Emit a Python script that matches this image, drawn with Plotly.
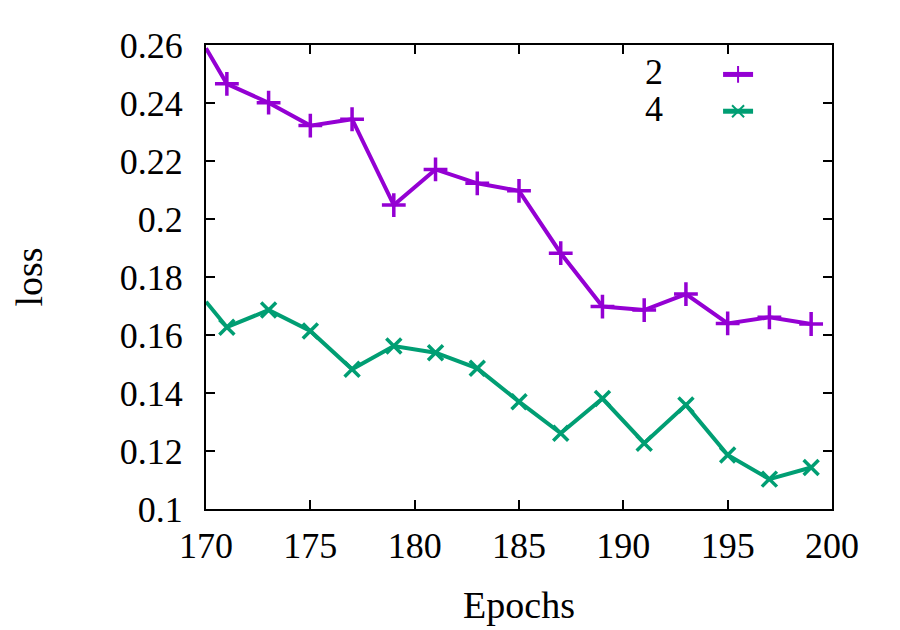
import plotly.graph_objects as go

# epochs sampled every 2 after the first point
epochs = [170, 171, 173, 175, 177, 179, 181, 183, 185, 187, 189, 191, 193, 195, 197, 199]

loss_2 = [0.2589, 0.2466, 0.2401, 0.2322, 0.2344, 0.2048, 0.2171, 0.2123,
          0.2097, 0.1882, 0.1698, 0.1686, 0.1741, 0.1640, 0.1661, 0.1638]
loss_4 = [0.1715, 0.1627, 0.1686, 0.1614, 0.1482, 0.1562, 0.1539, 0.1485,
          0.1370, 0.1261, 0.1381, 0.1227, 0.1359, 0.1186, 0.1103, 0.1143]

x_ticks = [170, 175, 180, 185, 190, 195, 200]
y_ticks = [0.1, 0.12, 0.14, 0.16, 0.18, 0.2, 0.22, 0.24, 0.26]
y_ticktext = ["0.1", "0.12", "0.14", "0.16", "0.18", "0.2", "0.22", "0.24", "0.26"]

purple = "#9400d3"
green = "#009e73"
font_family = "Liberation Serif, Times New Roman, serif"

# gnuplot drops the point symbol sitting on the border (first epoch)
def marker_sizes(size, n):
    return [0] + [size] * (n - 1)

fig = go.Figure()
fig.add_trace(go.Scatter(
    x=epochs, y=loss_2, mode="lines+markers", name=" ",
    line=dict(color=purple, width=4),
    marker=dict(symbol="cross-thin-open", size=marker_sizes(17, len(epochs)),
                color=purple, opacity=1,
                line=dict(color=purple, width=3.5)),
    cliponaxis=False,
))
fig.add_trace(go.Scatter(
    x=epochs, y=loss_4, mode="lines+markers", name=" ",
    line=dict(color=green, width=4),
    marker=dict(symbol="x-thin-open", size=marker_sizes(15, len(epochs)),
                color=green, opacity=1,
                line=dict(color=green, width=3.5)),
    cliponaxis=False,
))

axis_common = dict(
    showline=True, linecolor="black", linewidth=2, mirror="ticks",
    ticks="inside", ticklen=9, tickwidth=1.5, tickcolor="black",
    showgrid=False, zeroline=False,
    tickfont=dict(family=font_family, size=36, color="black"),
)

fig.update_layout(
    width=900, height=630,
    paper_bgcolor="white", plot_bgcolor="white",
    margin=dict(l=198, r=76, t=37, b=129),
    font=dict(family=font_family, size=32, color="black"),
    xaxis=dict(range=[170, 200], tickvals=x_ticks, ticklabelstandoff=4,
               title=dict(text="Epochs", standoff=26), **axis_common),
    yaxis=dict(range=[0.1, 0.26], tickvals=y_ticks, ticktext=y_ticktext,
               ticklabelstandoff=14,
               title=dict(text="loss", standoff=67), **axis_common),
    legend=dict(x=0.818, y=0.987, xanchor="left", yanchor="top",
                bgcolor="rgba(0,0,0,0)", font=dict(size=26),
                itemwidth=30, tracegroupgap=0, itemsizing="constant"),
    annotations=[
        dict(text="2", xref="paper", yref="paper", x=0.733, y=0.942,
             xanchor="right", yanchor="middle", showarrow=False,
             font=dict(size=36)),
        dict(text="4", xref="paper", yref="paper", x=0.733, y=0.862,
             xanchor="right", yanchor="middle", showarrow=False,
             font=dict(size=36)),
    ],
)

fig.write_html("out.html")
